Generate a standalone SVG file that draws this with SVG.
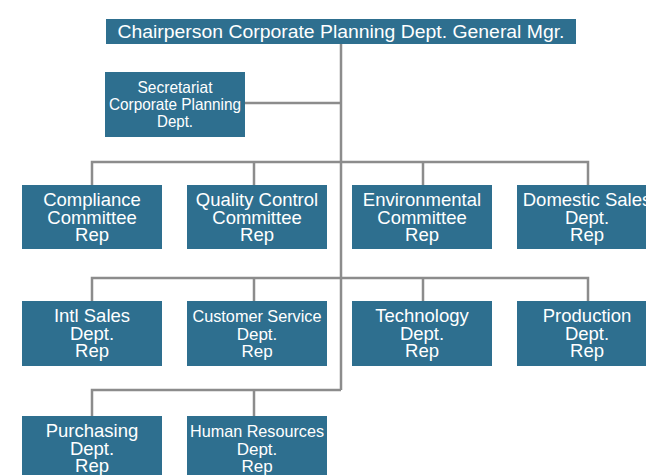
<svg xmlns="http://www.w3.org/2000/svg" width="646" height="475" viewBox="0 0 646 475">
<style>
.box{fill:#2e6f8f}
.t{font-family:"Liberation Sans",Arial,Helvetica,sans-serif;fill:#fff;text-anchor:middle;font-size:18.5px}
.s{font-size:17px}
.sec{font-size:16.5px}
.top{font-size:17.5px}
.c{stroke:#8c8c8c;stroke-width:2.5;fill:none}
</style>
<rect width="646" height="475" fill="#fff"/>
<g id="connectors">
<path class="c" d="M341 44V390"/>
<path class="c" d="M245 103H341"/>
<path class="c" d="M92 185V162H588V185M254 162V185M423 162V185"/>
<path class="c" d="M92 301V278H588V301M254 278V301M423 278V301"/>
<path class="c" d="M92 416V390H341M254 390V416"/>
</g>
<g id="n-chair">
<rect class="box" x="106" y="19" width="470" height="25"/>
<text class="t top" x="341" y="37.5" textLength="447" lengthAdjust="spacingAndGlyphs">Chairperson Corporate Planning Dept. General Mgr.</text>
</g>
<g id="n-secretariat">
<rect class="box" x="105" y="72" width="140" height="65"/>
<text class="t sec" x="175" y="93.3" textLength="75" lengthAdjust="spacingAndGlyphs">Secretariat</text>
<text class="t sec" x="175" y="110" textLength="132" lengthAdjust="spacingAndGlyphs">Corporate Planning</text>
<text class="t sec" x="175" y="126.7" textLength="36" lengthAdjust="spacingAndGlyphs">Dept.</text>
</g>
<g id="n-compliance">
<rect class="box" x="22" y="185" width="140" height="64"/>
<text class="t" x="92" y="206">Compliance</text>
<text class="t" x="92" y="223.5">Committee</text>
<text class="t" x="92" y="241">Rep</text>
</g>
<g id="n-quality">
<rect class="box" x="187" y="185" width="140" height="64"/>
<text class="t" x="257" y="206">Quality Control</text>
<text class="t" x="257" y="223.5">Committee</text>
<text class="t" x="257" y="241">Rep</text>
</g>
<g id="n-environmental">
<rect class="box" x="352" y="185" width="140" height="64"/>
<text class="t" x="422" y="206">Environmental</text>
<text class="t" x="422" y="223.5">Committee</text>
<text class="t" x="422" y="241">Rep</text>
</g>
<g id="n-domestic">
<rect class="box" x="517" y="185" width="140" height="64"/>
<text class="t" x="587" y="206">Domestic Sales</text>
<text class="t" x="587" y="223.5">Dept.</text>
<text class="t" x="587" y="241">Rep</text>
</g>
<g id="n-intl">
<rect class="box" x="22" y="301" width="140" height="65"/>
<text class="t" x="92" y="322">Intl Sales</text>
<text class="t" x="92" y="339.5">Dept.</text>
<text class="t" x="92" y="357">Rep</text>
</g>
<g id="n-customer">
<rect class="box" x="187" y="301" width="140" height="65"/>
<text class="t s" x="257" y="322" textLength="129" lengthAdjust="spacingAndGlyphs">Customer Service</text>
<text class="t s" x="257" y="339.5">Dept.</text>
<text class="t s" x="257" y="357">Rep</text>
</g>
<g id="n-technology">
<rect class="box" x="352" y="301" width="140" height="65"/>
<text class="t" x="422" y="322">Technology</text>
<text class="t" x="422" y="339.5">Dept.</text>
<text class="t" x="422" y="357">Rep</text>
</g>
<g id="n-production">
<rect class="box" x="517" y="301" width="140" height="65"/>
<text class="t" x="587" y="322">Production</text>
<text class="t" x="587" y="339.5">Dept.</text>
<text class="t" x="587" y="357">Rep</text>
</g>
<g id="n-purchasing">
<rect class="box" x="22" y="416" width="140" height="65"/>
<text class="t" x="92" y="437">Purchasing</text>
<text class="t" x="92" y="454.5">Dept.</text>
<text class="t" x="92" y="472">Rep</text>
</g>
<g id="n-hr">
<rect class="box" x="187" y="416" width="140" height="65"/>
<text class="t s" x="257" y="437" textLength="134" lengthAdjust="spacingAndGlyphs">Human Resources</text>
<text class="t s" x="257" y="454.5">Dept.</text>
<text class="t s" x="257" y="472">Rep</text>
</g>
</svg>
